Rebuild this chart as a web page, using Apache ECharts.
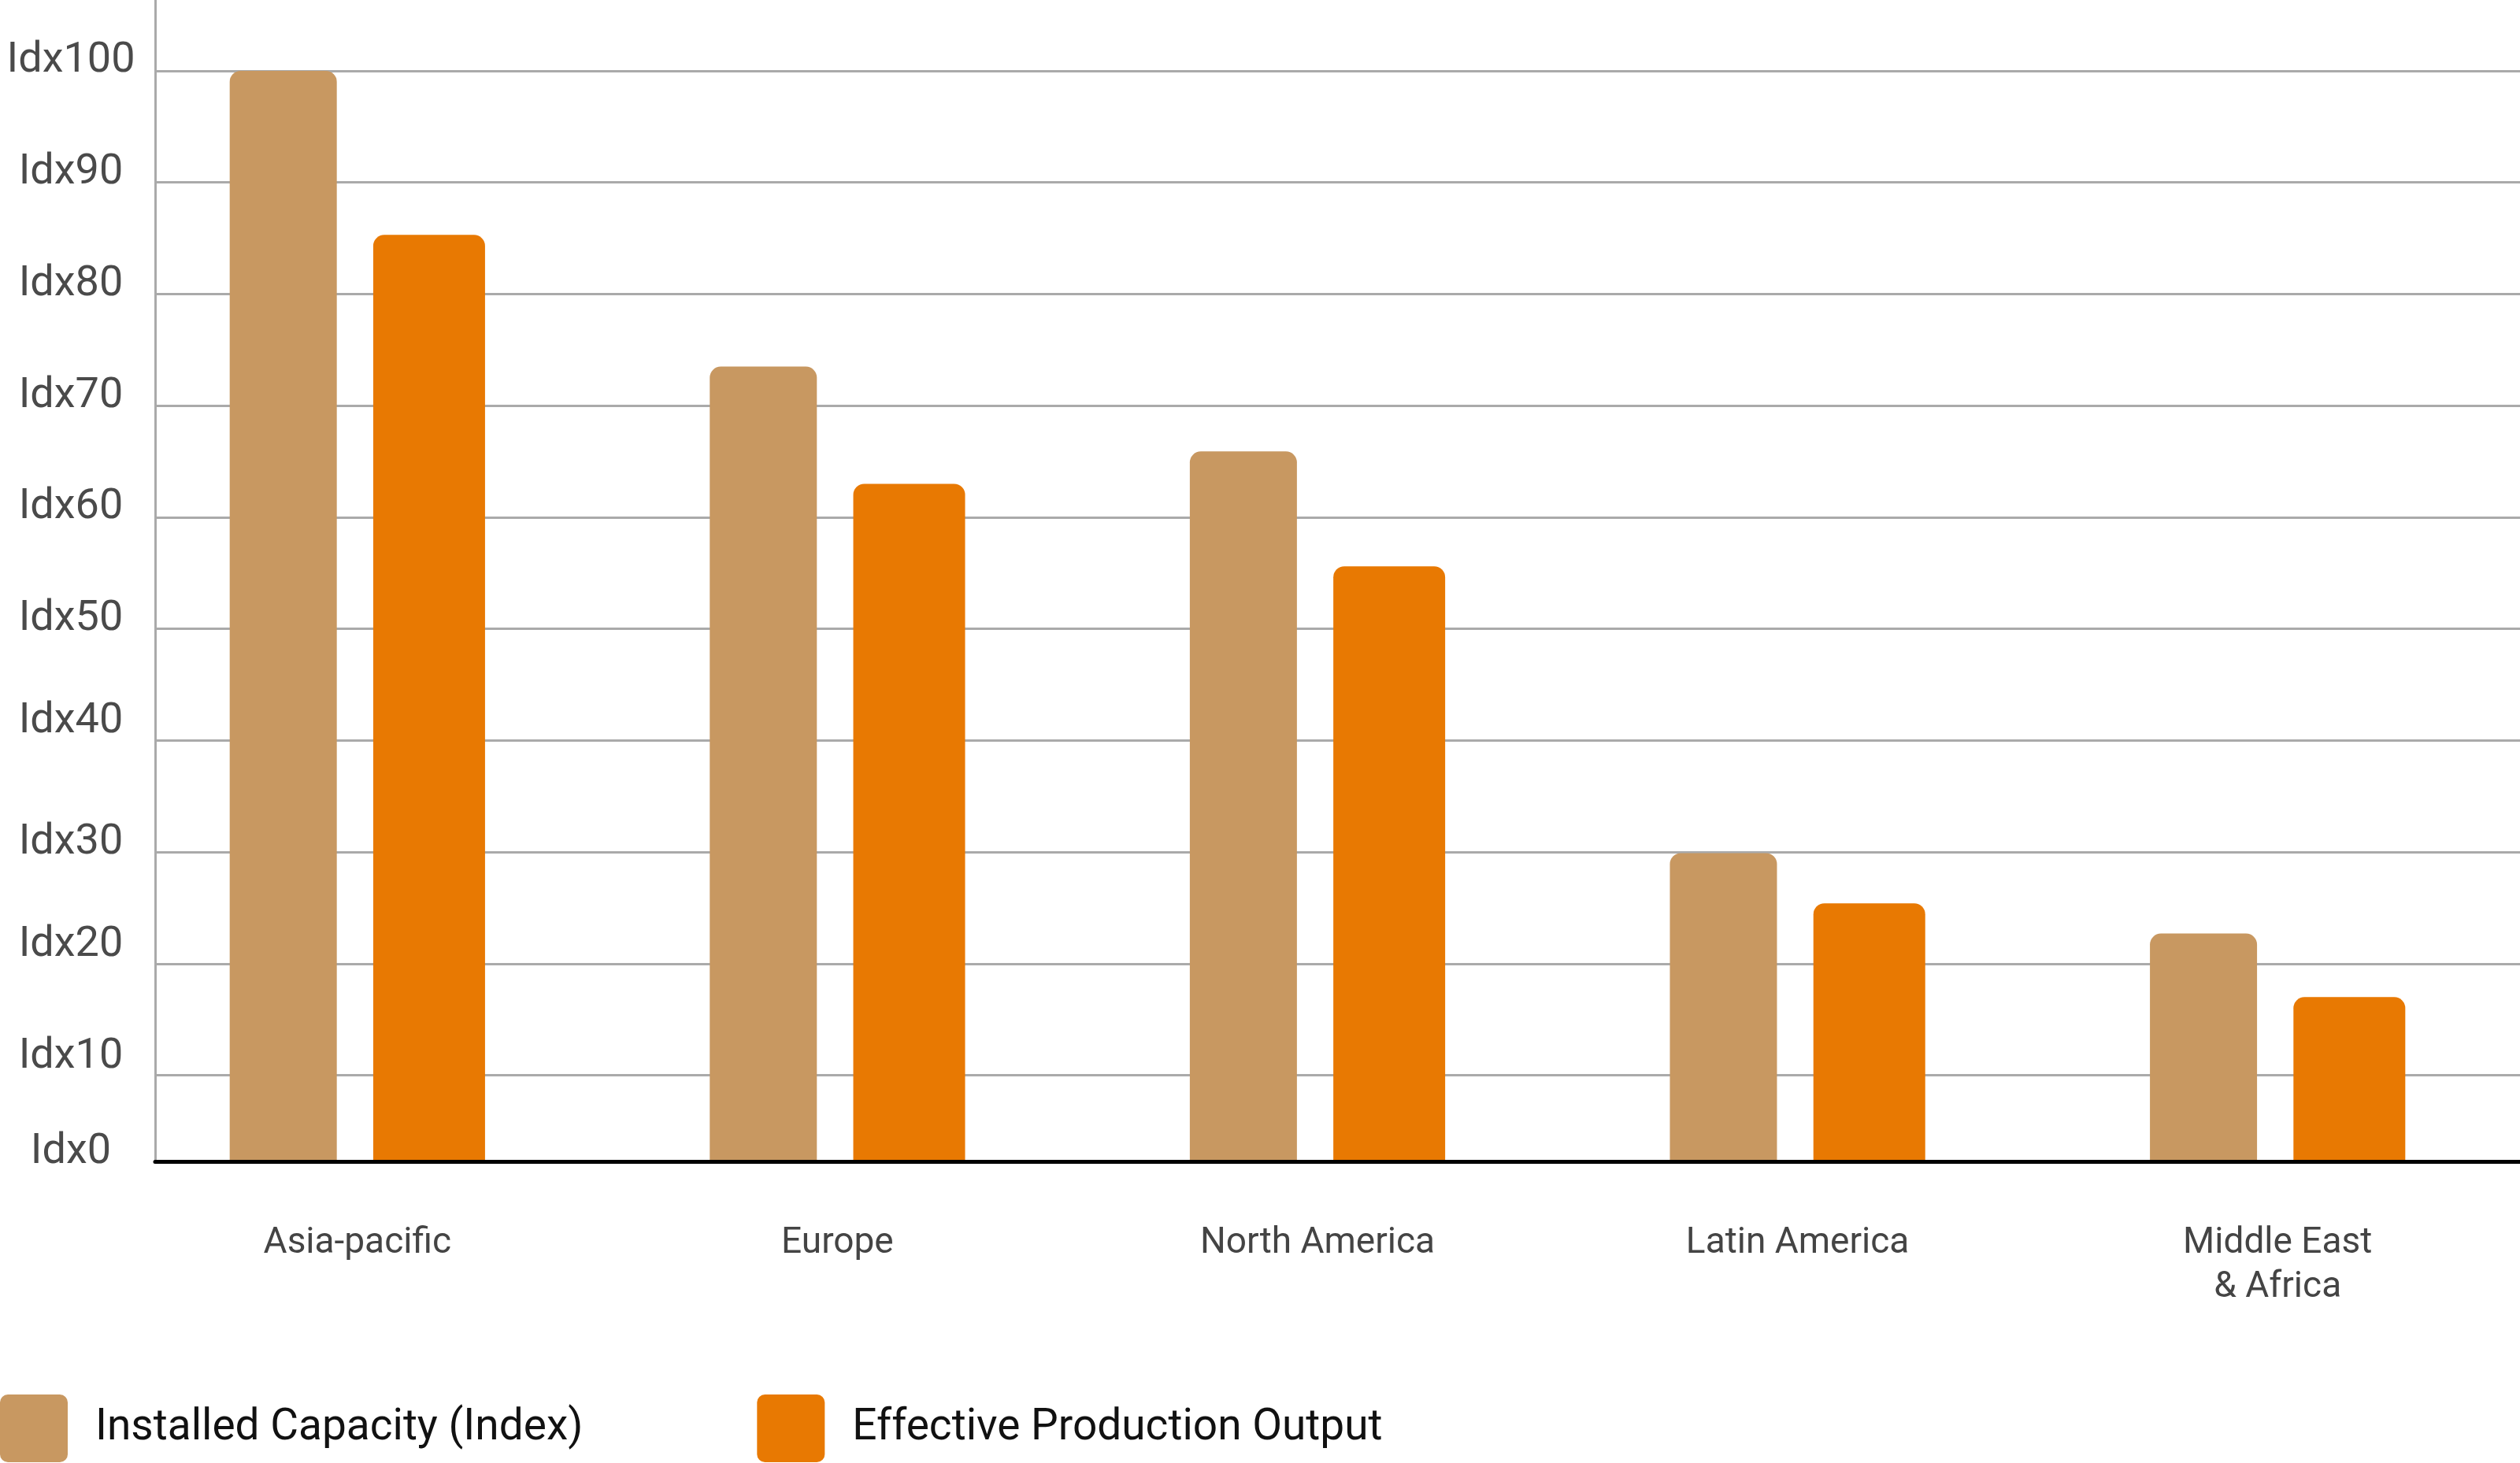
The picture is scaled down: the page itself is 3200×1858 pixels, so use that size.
<!DOCTYPE html>
<html>
<head>
<meta charset="utf-8">
<script src="https://cdn.jsdelivr.net/npm/echarts@6/dist/echarts.min.js"></script>
<style>
  html, body { margin: 0; padding: 0; background: #fff; }
  #chart { width: 3200px; height: 1858px; }
</style>
</head>
<body>
<div id="chart"></div>
<script>
// data
const regions = ['Asia-pacific', 'Europe', 'North America', 'Latin America', 'Middle East\n& Africa'];
const installedCapacity = [100, 73.5, 65.9, 29.9, 22.7];
const productionOutput = [85.3, 63.0, 55.6, 25.4, 17.0];
const yTicks = [0, 10, 20, 30, 40, 50, 60, 70, 80, 90, 100];
const seriesNames = ['Installed Capacity (Index)', 'Effective Production Output'];

// axis range: baseline sits a little above the zero line in the original
const yMin = 2.24;
const yMax = 106.35;

// a few labels sit higher above their grid line than the rest
const raisedTicks = [10, 20, 40];

const tan = '#C89861';
const orange = '#E87902';
const font = 'Roboto';

const chart = echarts.init(document.getElementById('chart'));

const option = {
  backgroundColor: '#fff',
  animation: false,
  legend: {
    left: 0,
    top: 1771,
    padding: 0,
    itemWidth: 86,
    itemHeight: 86,
    itemGap: 221,
    icon: 'path://M10,0 H76 A10,10 0 0 1 86,10 V76 A10,10 0 0 1 76,86 H10 A10,10 0 0 1 0,76 V10 A10,10 0 0 1 10,0 Z',
    textStyle: {
      fontFamily: font,
      fontSize: 55,
      color: '#111',
      lineHeight: 66,
      padding: [20, 0, 0, 30]
    },
    data: seriesNames
  },
  grid: [
    // frame: axis line, split lines, y labels
    { left: 197, right: 0, top: 0, bottom: 382.5 },
    // bars: category band starts left of the y axis line
    { left: 149, right: 3, top: 0, bottom: 382.5 }
  ],
  xAxis: [{
    type: 'category',
    gridIndex: 0,
    data: regions,
    z: 10,
    axisLine: { lineStyle: { color: '#000', width: 5 } },
    axisTick: { show: false },
    axisLabel: { show: false }
  }, {
    type: 'category',
    gridIndex: 1,
    data: regions,
    axisLine: { show: false },
    axisTick: { show: false },
    axisLabel: {
      margin: 76,
      fontFamily: font,
      fontSize: 46,
      lineHeight: 56,
      color: '#444',
      interval: 0
    }
  }],
  yAxis: [{
    type: 'value',
    gridIndex: 0,
    min: yMin,
    max: yMax,
    axisLine: { show: true, lineStyle: { color: '#aaa', width: 3 } },
    axisTick: { show: false, customValues: yTicks.slice(1) },
    splitLine: { lineStyle: { color: '#aaa', width: 3 } },
    axisLabel: {
      customValues: yTicks.map(v => Math.max(v, yMin)),
      align: 'center',
      margin: 107,
      formatter: function (v) {
        const t = Math.round(v / 10) * 10;
        const key = raisedTicks.indexOf(t) >= 0 ? 'hi' : 'lo';
        return '{' + key + '|Idx' + t + '}';
      },
      rich: {
        lo: { fontFamily: font, fontSize: 54, color: '#4a4a4a', padding: [0, 0, 24, 0] },
        hi: { fontFamily: font, fontSize: 54, color: '#4a4a4a', padding: [0, 0, 47, 0] }
      }
    }
  }, {
    type: 'value',
    gridIndex: 1,
    min: yMin,
    max: yMax,
    show: false,
    splitLine: { show: false }
  }],
  series: [{
    name: seriesNames[0],
    type: 'bar',
    xAxisIndex: 1,
    yAxisIndex: 1,
    barWidth: 136,
    barGap: '34%',
    itemStyle: { color: tan, borderRadius: [14, 14, 0, 0] },
    data: installedCapacity
  }, {
    name: seriesNames[1],
    type: 'bar',
    xAxisIndex: 1,
    yAxisIndex: 1,
    barWidth: 142,
    barGap: '34%',
    itemStyle: { color: orange, borderRadius: [14, 14, 0, 0] },
    data: productionOutput
  }]
};

chart.setOption(option);
</script>
</body>
</html>
